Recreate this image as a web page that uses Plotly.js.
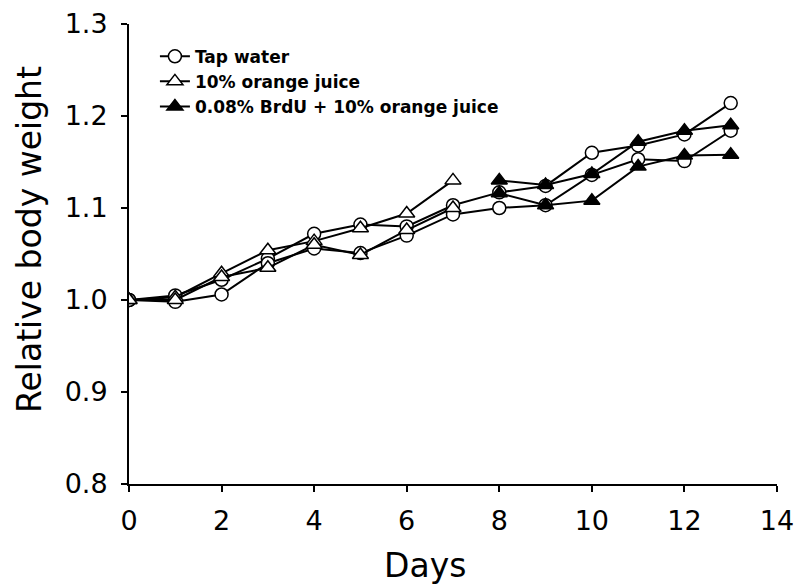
<!DOCTYPE html>
<html>
<head>
<meta charset="utf-8">
<script src="https://cdn.plot.ly/plotly-3.0.1.min.js"></script>
<style>
  html, body { margin: 0; padding: 0; background: #fff; }
  #chart { width: 802px; height: 588px; }
</style>
</head>
<body>
<div id="chart"></div>
<script>
// Days of measurement
var daysFull = [0, 1, 2, 3, 4, 5, 6, 7, 8, 9, 10, 11, 12, 13];
var daysJuice = [0, 1, 2, 3, 4, 5, 6, 7];
var daysBrdU = [8, 9, 10, 11, 12, 13];

// Relative body weight, two cohorts per treatment
var tapWaterA = [1.000, 1.005, 1.022, 1.045, 1.072, 1.082, 1.080, 1.103, 1.117, 1.124, 1.160, 1.168, 1.180, 1.214];
var tapWaterB = [1.000, 0.998, 1.006, 1.040, 1.056, 1.051, 1.070, 1.093, 1.100, 1.103, 1.136, 1.153, 1.151, 1.184];
var juiceA = [1.000, 1.003, 1.029, 1.054, 1.064, 1.078, 1.094, 1.130];
var juiceB = [1.000, 1.000, 1.025, 1.035, 1.060, 1.049, 1.076, 1.100];
var brduA = [1.130, 1.125, 1.137, 1.172, 1.184, 1.190];
var brduB = [1.116, 1.103, 1.108, 1.145, 1.157, 1.158];

var seriesNames = ['Tap water', '10% orange juice', '0.08% BrdU + 10% orange juice'];
var xTitle = 'Days';
var yTitle = 'Relative body weight';

var lineStyle = { color: '#000', width: 2 };
function mk(symbol, fill) {
  return { symbol: symbol, size: symbol.indexOf('triangle') === 0 ? 14 : 13,
           color: fill, line: { color: '#000', width: 1.5 } };
}

var traces = [
  { x: daysFull, y: tapWaterA, name: seriesNames[0], legendgroup: 'tap', showlegend: true,
    mode: 'lines+markers', line: lineStyle, marker: mk('circle', '#fff') },
  { x: daysFull, y: tapWaterB, name: seriesNames[0], legendgroup: 'tap', showlegend: false,
    mode: 'lines+markers', line: lineStyle, marker: mk('circle', '#fff') },
  { x: daysJuice, y: juiceA, name: seriesNames[1], legendgroup: 'oj', showlegend: true,
    mode: 'lines+markers', line: lineStyle, marker: mk('triangle-up', '#fff') },
  { x: daysJuice, y: juiceB, name: seriesNames[1], legendgroup: 'oj', showlegend: false,
    mode: 'lines+markers', line: lineStyle, marker: mk('triangle-up', '#fff') },
  { x: daysBrdU, y: brduA, name: seriesNames[2], legendgroup: 'brdu', showlegend: true,
    mode: 'lines+markers', line: lineStyle, marker: mk('triangle-up', '#000') },
  { x: daysBrdU, y: brduB, name: seriesNames[2], legendgroup: 'brdu', showlegend: false,
    mode: 'lines+markers', line: lineStyle, marker: mk('triangle-up', '#000') }
];

var fam = 'DejaVu Sans, Verdana, sans-serif';
var tickFont = { family: fam, size: 27, color: '#000' };
var titleFont = { family: fam, size: 33, color: '#000' };

var layout = {
  width: 802, height: 588,
  margin: { l: 129, r: 25, t: 24, b: 104 },
  paper_bgcolor: '#fff', plot_bgcolor: '#fff',
  showlegend: true,
  legend: {
    x: 0.04, y: 0.968, xanchor: 'left', yanchor: 'top',
    bgcolor: 'rgba(0,0,0,0)', borderwidth: 0,
    font: { family: fam, size: 17, color: '#000', weight: 'bold' },
    tracegroupgap: 0, itemwidth: 30
  },
  xaxis: {
    range: [0, 14], dtick: 2, tick0: 0,
    showgrid: false, zeroline: false,
    showline: true, linecolor: '#000', linewidth: 2,
    ticks: 'outside', ticklen: 6, tickwidth: 2, tickcolor: '#000',
    tickfont: tickFont, ticklabelstandoff: 6
  },
  yaxis: {
    range: [0.8, 1.3], dtick: 0.1, tick0: 0.8, tickformat: '.1f',
    showgrid: false, zeroline: false,
    showline: true, linecolor: '#000', linewidth: 2,
    ticks: 'outside', ticklen: 6, tickwidth: 2, tickcolor: '#000',
    tickfont: tickFont, ticklabelstandoff: 8
  },
  // Axis titles placed as paper annotations
  annotations: [
    { text: xTitle, xref: 'paper', yref: 'paper', x: (425 - 129) / 648, y: -(565 - 484) / 460,
      xanchor: 'center', yanchor: 'middle', showarrow: false, font: titleFont },
    { text: yTitle, xref: 'paper', yref: 'paper', x: -(129 - 30) / 648, y: (484 - 240) / 460,
      xanchor: 'center', yanchor: 'middle', textangle: -90, showarrow: false, font: titleFont }
  ]
};

Plotly.newPlot('chart', traces, layout, { displayModeBar: false, staticPlot: true });
</script>
</body>
</html>
